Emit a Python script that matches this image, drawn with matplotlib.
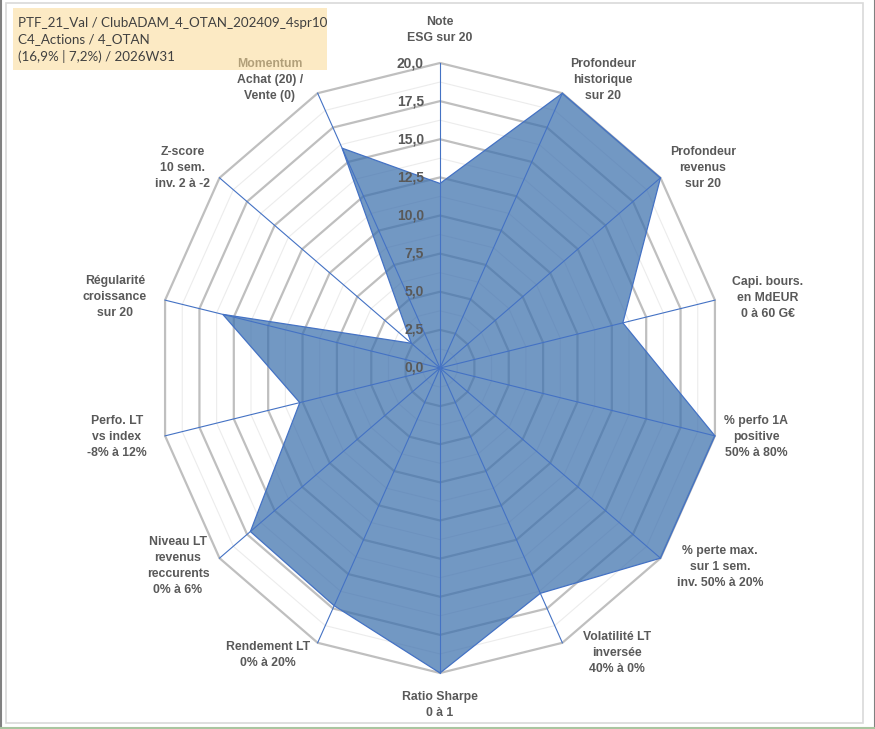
import numpy as np
import matplotlib
matplotlib.use("Agg")
import matplotlib.pyplot as plt
from matplotlib.patches import Rectangle, Polygon

# Radar axes, clockwise from the top
categories = [
    "Note\nESG sur 20",
    "Profondeur\nhistorique\nsur 20",
    "Profondeur\nrevenus\nsur 20",
    "Capi. bours.\nen MdEUR\n0 à 60 G€",
    "% perfo 1A\npositive\n50% à 80%",
    "% perte max.\nsur 1 sem.\ninv. 50% à 20%",
    "Volatilité LT\ninversée\n40% à 0%",
    "Ratio Sharpe\n0 à 1",
    "Rendement LT\n0% à 20%",
    "Niveau LT\nrevenus\nreccurents\n0% à 6%",
    "Perfo. LT\nvs index\n-8% à 12%",
    "Régularité\ncroissance\nsur 20",
    "Z-score\n10 sem.\ninv. 2 à -2",
    "Momentum\nAchat (20) /\nVente (0)",
]
scores = [12.1, 20.0, 20.0, 13.3, 20.0, 20.0, 16.4, 20.0, 17.3, 17.2, 10.2, 15.8, 2.6, 16.0]
major_ticks = [0.0, 2.5, 5.0, 7.5, 10.0, 12.5, 15.0, 17.5, 20.0]
tick_labels = ["0,0", "2,5", "5,0", "7,5", "10,0", "12,5", "15,0", "17,5", "20,0"]
title_lines = "PTF_21_Val / ClubADAM_4_OTAN_202409_4spr10\nC4_Actions / 4_OTAN\n(16,9% | 7,2%) / 2026W31"

# label block centres, in picture pixels
label_pos = [(440, 30), (603, 80), (703, 168), (768, 298), (756, 437), (720, 567),
             (617, 653), (440, 705), (268, 655), (178, 566), (117, 437), (115, 297),
             (183, 168), (270, 80)]

W, H = 875, 729
CX, CY, RX, RY = 440, 368, 282, 305   # centre and radius of 20 in pixels

BLUE = "#4472C4"
FILL = "#3C70AD"
GREY_TXT = "#595959"


def px2data(px, py):
    return (px - CX) / RX * 20, (CY - py) / RY * 20


def main():
    n = len(categories)
    theta = np.arange(n) * 2 * np.pi / n
    sx, cy = np.sin(theta), np.cos(theta)

    fig = plt.figure(figsize=(W / 100, H / 100), dpi=100)
    ax = fig.add_axes([0, 0, 1, 1])
    x0, y1 = px2data(0, 0)
    x1, y0 = px2data(W, H)
    ax.set_xlim(x0, x1)
    ax.set_ylim(y0, y1)
    ax.axis("off")

    # rings
    for k in range(1, 17):
        r = k * 1.25
        major = k % 2 == 0
        ax.add_patch(Polygon(np.column_stack([r * sx, r * cy]), closed=True, fill=False,
                             edgecolor="#BFBFBF" if major else "#ECECEC",
                             lw=1.6 if major else 0.8, zorder=1))

    # data polygon
    v = np.array(scores)
    pts = np.column_stack([v * sx, v * cy])
    ax.add_patch(Polygon(pts, closed=True, facecolor=FILL, alpha=0.72,
                         edgecolor="none", zorder=2))
    ax.add_patch(Polygon(pts, closed=True, fill=False, edgecolor=BLUE, lw=0.9, zorder=3))

    # spokes
    for s, c in zip(sx, cy):
        ax.plot([0, 20 * s], [0, 20 * c], color=BLUE, lw=0.8, zorder=3)

    # value axis labels
    tx, _ = px2data(424, 0)
    for t, lab in zip(major_ticks, tick_labels):
        ax.text(tx, t, lab, ha="right", va="center", fontsize=10, fontweight="bold",
                color=GREY_TXT, family="Liberation Sans", zorder=4)

    # category labels
    for lab, (px, py) in zip(categories, label_pos):
        x, y = px2data(px, py)
        ax.text(x, y, lab, ha="center", va="center", ma="center", fontsize=8.8,
                fontweight="bold", color=GREY_TXT, family="Liberation Sans",
                linespacing=1.45, zorder=4)

    # title box (drawn over the chart, half transparent)
    fig.patches.append(Rectangle((13 / W, 1 - 70 / H), 314 / W, 62 / H,
                                 transform=fig.transFigure, facecolor="#FAD994",
                                 alpha=0.55, edgecolor="none", zorder=5))
    fig.text(18 / W, 1 - 40 / H, title_lines, ha="left", va="center", fontsize=9.6,
             color="#404040", family="Lato", linespacing=1.45, zorder=6)

    # outer frame
    fig.patches.append(Rectangle((6 / W, 1 - 723 / H), 857 / W, 720 / H,
                                 transform=fig.transFigure, fill=False,
                                 edgecolor="#D9D9D9", lw=1.2, zorder=6))
    fig.lines.append(plt.Line2D([0.5 / W, 0.5 / W], [0, 1], transform=fig.transFigure,
                                color="#808080", lw=1.5))
    fig.lines.append(plt.Line2D([1 - 0.5 / W, 1 - 0.5 / W], [0, 1], transform=fig.transFigure,
                                color="#808080", lw=1.5))
    fig.lines.append(plt.Line2D([0, 1], [1.5 / H, 1.5 / H], transform=fig.transFigure,
                                color="#A9C5A0", lw=1.5))

    fig.savefig("out.png", dpi=100)


if __name__ == "__main__":
    main()
